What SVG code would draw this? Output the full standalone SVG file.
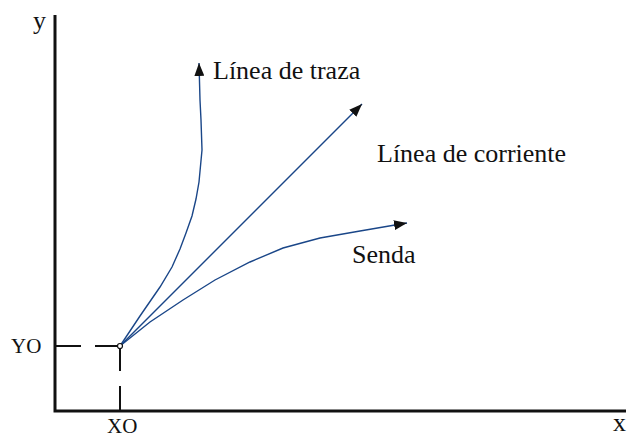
<svg xmlns="http://www.w3.org/2000/svg" width="627" height="437" viewBox="0 0 627 437">
<style>
text{font-family:'Liberation Serif','DejaVu Serif',serif;fill:#111}
.big{font-size:26px}
.sm{font-size:21px}
.axis{stroke:#111;stroke-width:3;fill:none}
.dash{stroke:#111;stroke-width:2;fill:none}
.curve{stroke:#1a4688;stroke-width:1.4;fill:none;marker-end:url(#ah)}
</style>
<defs>
<marker id="ah" markerUnits="userSpaceOnUse" markerWidth="14" markerHeight="10" refX="13" refY="5" orient="auto" viewBox="0 0 14 10">
<path d="M0,0 L13,5 L0,10 Z" fill="#111"/>
</marker>
</defs>
<g id="axes">
<path class="axis" d="M55,15 V411 H626"/>
<text class="big" x="33" y="29" font-family="Liberation Serif, serif">y</text>
<text class="big" x="613" y="431" font-family="Liberation Serif, serif">x</text>
</g>
<g id="origin">
<path class="dash" d="M55,346 H81 M95,346 H120 M120,346 V371 M120,386 V411"/>
<text class="sm" x="11" y="353" font-family="Liberation Serif, serif">YO</text>
<text class="sm" x="107" y="433" font-family="Liberation Serif, serif">XO</text>
</g>
<g id="connectors">
<polyline id="traza" class="curve" points="120,346 140,316 160,287 172,267 180,249 186,233 192,216 196,199 199,182 202,150 201,120 200,100 199,63"/>
<line id="corriente" class="curve" x1="120" y1="346" x2="362" y2="104"/>
<polyline id="senda" class="curve" points="120,346 150,322 183,300 215,280 250,262 283,248 320,238 360,231 395,225 407,223"/>
</g>
<g id="origin-point">
<circle cx="120" cy="346" r="2.5" fill="#fff" stroke="#111" stroke-width="1.2"/>
</g>
<g id="label-traza"><text class="big" x="213" y="79" font-family="Liberation Serif, serif">Línea de traza</text></g>
<g id="label-corriente"><text class="big" x="377" y="162" font-family="Liberation Serif, serif">Línea de corriente</text></g>
<g id="label-senda"><text class="big" x="352" y="263" font-family="Liberation Serif, serif">Senda</text></g>
</svg>
